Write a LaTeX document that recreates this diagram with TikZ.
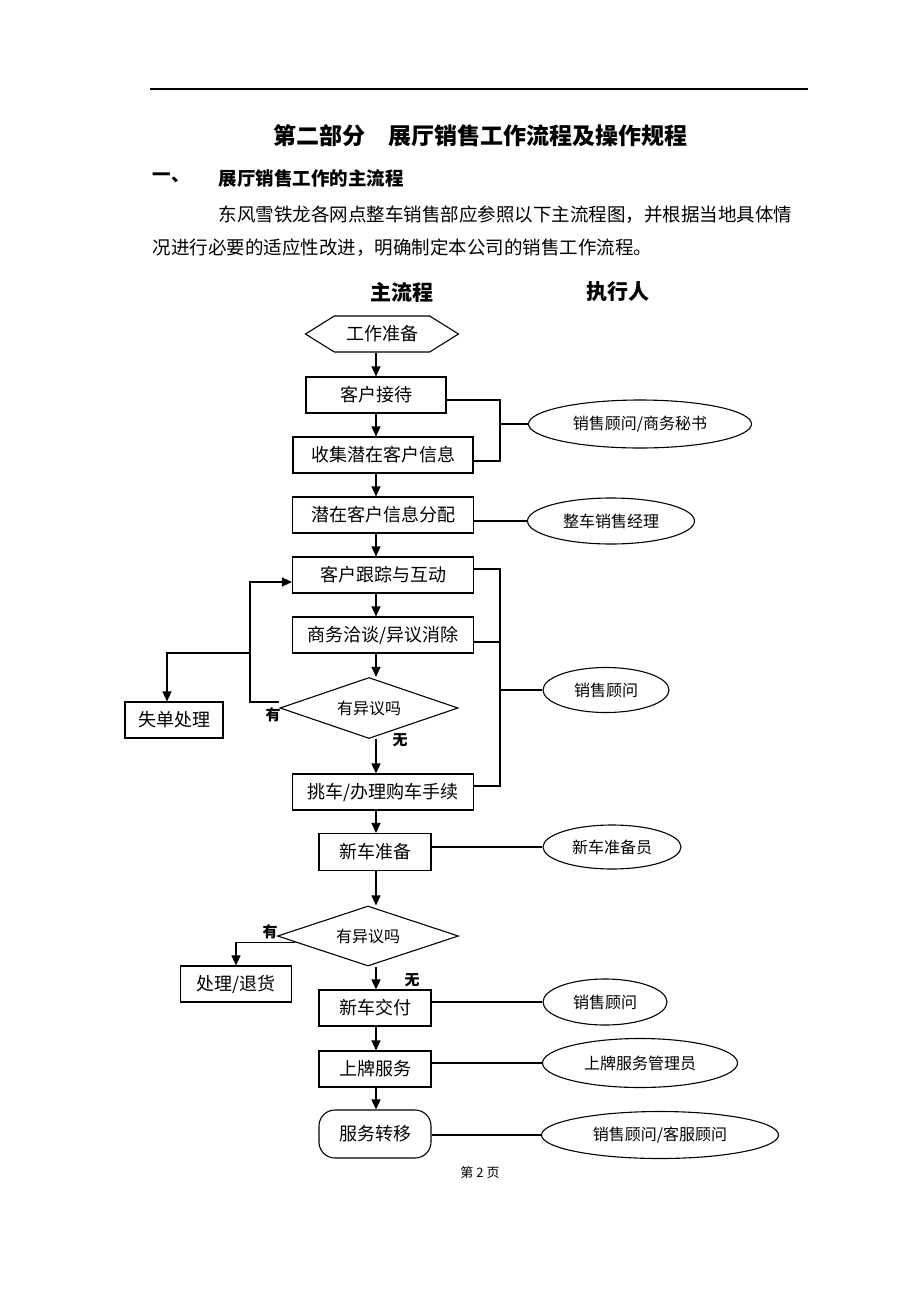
\documentclass[tikz,border=0pt]{standalone}
\usepackage{fontspec}
\setmainfont{Noto Sans CJK SC}
\usepackage{tikz}
\usetikzlibrary{shapes.geometric, shapes.symbols, arrows.meta, calc}
\tikzstyle{prep} = [signal, signal to=east and west, signal pointer angle=64, draw, minimum width=153pt, minimum height=36pt, inner sep=0, font=\fontsize{18}{18}\selectfont]
\tikzstyle{proc} = [rectangle, draw, minimum height=36pt, inner sep=0, font=\fontsize{18}{18}\selectfont]
\tikzstyle{term} = [rectangle, draw, rounded corners=16pt, minimum height=48pt, inner sep=0, font=\fontsize{18}{18}\selectfont]
\tikzstyle{ask} = [diamond, draw, aspect=3, inner sep=0, minimum width=180pt, minimum height=61pt, font=\fontsize{16}{16}\selectfont]
\tikzstyle{actor} = [ellipse, draw, inner sep=0, minimum height=46pt, font=\fontsize{16}{16}\selectfont]
\tikzstyle{yesno} = [inner sep=0, font=\fontsize{15}{15}\selectfont\bfseries]
\tikzstyle{head} = [inner sep=0, font=\fontsize{21}{21}\selectfont\bfseries]
\tikzstyle{body} = [anchor=west, inner sep=0, font=\fontsize{18.5}{18.5}\selectfont]
\tikzstyle{line} = [draw, -{Triangle[length=10pt,width=9pt]}]
\tikzstyle{conn} = [draw]

\begin{document}
\begin{tikzpicture}[x=1pt, y=-1pt, line width=1.1pt]
\useasboundingbox (0,0) rectangle (920,1302);

% page head
\draw[line width=1.2pt] (150,89) -- (808,89);
\node [inner sep=0, font=\fontsize{23}{23}\selectfont\bfseries] (title) at (480,136) {第二部分\hspace{1em}展厅销售工作流程及操作规程};
\node [body, font=\fontsize{18.5}{18.5}\selectfont\bfseries] (secno) at (152,178) {一、};
\node [body, font=\fontsize{18.5}{18.5}\selectfont\bfseries] (sec) at (218,178) {展厅销售工作的主流程};
\node [body] (para1) at (218,215) {东风雪铁龙各网点整车销售部应参照以下主流程图，并根据当地具体情};
\node [body] (para2) at (152,248) {况进行必要的适应性改进，明确制定本公司的销售工作流程。};

\node [head] (mainhd) at (402,292) {主流程};
\node [head] (whohd) at (618,292) {执行人};

% main flow
\node [prep] (prep) at (382,334) {工作准备};
\node [proc, minimum width=140pt] (recv) at (376,395) {客户接待};
\node [proc, minimum width=180pt] (collect) at (383,455) {收集潜在客户信息};
\node [proc, minimum width=181pt] (assign) at (383,515) {潜在客户信息分配};
\node [proc, minimum width=181pt] (follow) at (383,575) {客户跟踪与互动};
\node [proc, minimum width=181pt] (nego) at (383,635) {商务洽谈/异议消除};
\node [ask, minimum width=178pt] (ask1) at (369,708) {有异议吗};
\node [proc, minimum width=98pt] (lost) at (174,720) {失单处理};
\node [proc, minimum width=181pt] (pick) at (383,792) {挑车/办理购车手续};
\node [proc, minimum width=112pt, minimum height=37pt] (ready) at (375,852) {新车准备};
\node [ask, minimum width=181pt, minimum height=60pt] (ask2) at (368,936) {有异议吗};
\node [proc, minimum width=111pt] (refund) at (236,984) {处理/退货};
\node [proc, minimum width=112pt] (deliver) at (375,1008) {新车交付};
\node [proc, minimum width=112pt] (plate) at (375,1069) {上牌服务};
\node [term, minimum width=112pt] (transfer) at (375,1134) {服务转移};

% who does it
\node [actor, minimum width=223pt, minimum height=48pt] (e1) at (640,424) {销售顾问/商务秘书};
\node [actor, minimum width=167pt] (e2) at (611,521) {整车销售经理};
\node [actor, minimum width=126pt, minimum height=45pt] (e3) at (606,690) {销售顾问};
\node [actor, minimum width=138pt, minimum height=44pt] (e4) at (612,847) {新车准备员};
\node [actor, minimum width=124pt] (e5) at (605,1002) {销售顾问};
\node [actor, minimum width=195pt, minimum height=49pt] (e6) at (640,1063) {上牌服务管理员};
\node [actor, minimum width=237pt, minimum height=47pt] (e7) at (660,1135) {销售顾问/客服顾问};

\coordinate (trunk) at (376,0);
\coordinate (fork1) at (500,424);
\coordinate (fork2) at (500,690);
\coordinate (back) at (250,653);
\coordinate (ask2lo) at ($(ask2.west)!0.2!(ask2.south)$);

\path [line] (prep.south -| trunk) -- (recv.north -| trunk);
\path [line] (recv.south -| trunk) -- (collect.north -| trunk);
\path [line] (collect.south -| trunk) -- (assign.north -| trunk);
\path [line] (assign.south -| trunk) -- (follow.north -| trunk);
\path [line] (follow.south -| trunk) -- (nego.north -| trunk);
\path [line] (nego.south -| trunk) -- (ask1.north -| trunk);
\path [line] (ask1.south -| trunk) -- (pick.north -| trunk);
\path [line] (pick.south -| trunk) -- (ready.north -| trunk);
\path [line] (ready.south -| trunk) -- (ask2.north -| trunk);
\path [line] (ask2.south -| trunk) -- (deliver.north -| trunk);
\path [line] (deliver.south -| trunk) -- (plate.north -| trunk);
\path [line] (plate.south -| trunk) -- (transfer.north -| trunk);

% objections
\path [line] ([yshift=6pt]ask1.west) -| (back) |- ([yshift=-7pt]follow.west);
\path [line] (back) -| ([xshift=-7pt]lost.north);
\node [yesno] (yes1) at (273,715) {有};
\node [yesno] (no1) at (400,740) {无};
\path [line] (ask2lo) -| (refund.north);
\node [yesno] (yes2) at (270,932) {有};
\node [yesno] (no2) at (412,980) {无};

% links to people
\path [conn] ([yshift=-5pt]recv.east) -| (fork1) |- ([yshift=-6pt]collect.east);
\path [conn] (fork1) -- (e1.west);
\path [conn] (e2.west -| assign.east) -- (e2.west);
\path [conn] ([yshift=6pt]follow.east) -| (fork2) |- ([yshift=6pt]pick.east);
\path [conn] ([yshift=-7pt]nego.east) -- ([yshift=-7pt]nego.east -| fork2);
\path [conn] (fork2) -- (e3.west);
\path [conn] (e4.west -| ready.east) -- (e4.west);
\path [conn] (e5.west -| deliver.east) -- (e5.west);
\path [conn] (e6.west -| plate.east) -- (e6.west);
\path [conn] (e7.west -| transfer.east) -- (e7.west);

\node [inner sep=0, font=\fontsize{13}{13}\selectfont] (pageno) at (480,1173) {第 2 页};
\end{tikzpicture}
\end{document}
